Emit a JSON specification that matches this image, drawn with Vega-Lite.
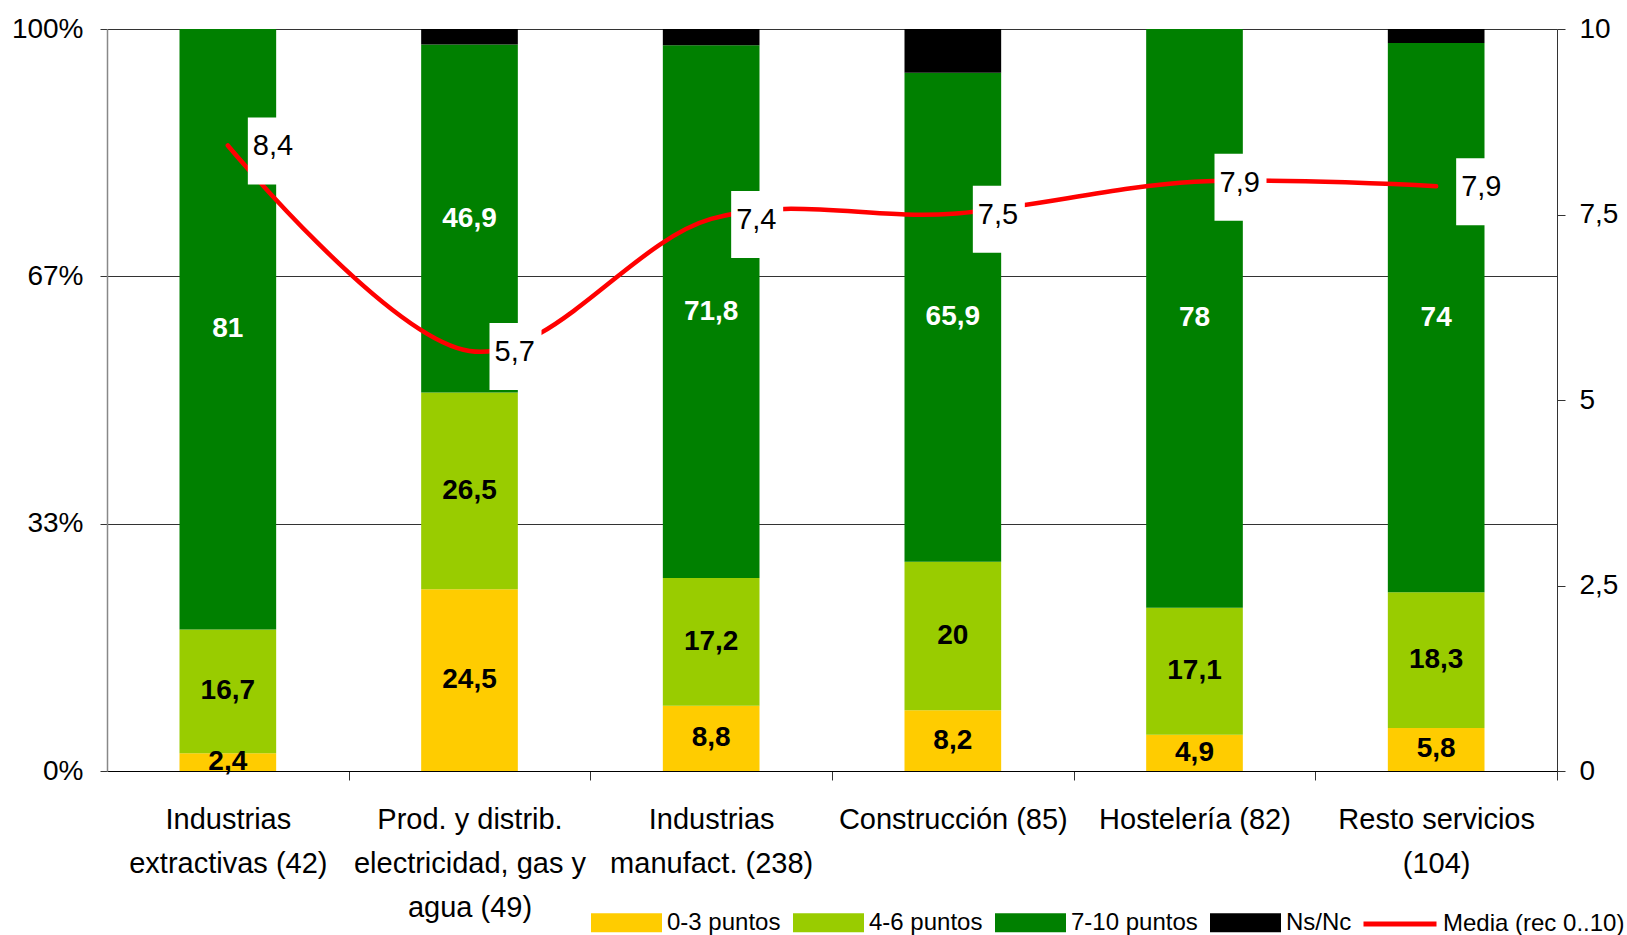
{
  "$schema": "https://vega.github.io/schema/vega-lite/v6.json",
  "width": 1450,
  "height": 742,
  "autosize": {"type": "none"},
  "padding": {"left": 107, "top": 29, "right": 70, "bottom": 164},
  "background": "white",
  "datasets": {
    "puntos": [
      {"sector": "Industrias\nextractivas (42)", "serie": "0-3 puntos", "valor": 2.4},
      {"sector": "Industrias\nextractivas (42)", "serie": "4-6 puntos", "valor": 16.7},
      {"sector": "Industrias\nextractivas (42)", "serie": "7-10 puntos", "valor": 81},
      {"sector": "Industrias\nextractivas (42)", "serie": "Ns/Nc", "valor": 0},
      {"sector": "Prod. y distrib.\nelectricidad, gas y\nagua (49)", "serie": "0-3 puntos", "valor": 24.5},
      {"sector": "Prod. y distrib.\nelectricidad, gas y\nagua (49)", "serie": "4-6 puntos", "valor": 26.5},
      {"sector": "Prod. y distrib.\nelectricidad, gas y\nagua (49)", "serie": "7-10 puntos", "valor": 46.9},
      {"sector": "Prod. y distrib.\nelectricidad, gas y\nagua (49)", "serie": "Ns/Nc", "valor": 2.1},
      {"sector": "Industrias\nmanufact. (238)", "serie": "0-3 puntos", "valor": 8.8},
      {"sector": "Industrias\nmanufact. (238)", "serie": "4-6 puntos", "valor": 17.2},
      {"sector": "Industrias\nmanufact. (238)", "serie": "7-10 puntos", "valor": 71.8},
      {"sector": "Industrias\nmanufact. (238)", "serie": "Ns/Nc", "valor": 2.2},
      {"sector": "Construcción (85)", "serie": "0-3 puntos", "valor": 8.2},
      {"sector": "Construcción (85)", "serie": "4-6 puntos", "valor": 20},
      {"sector": "Construcción (85)", "serie": "7-10 puntos", "valor": 65.9},
      {"sector": "Construcción (85)", "serie": "Ns/Nc", "valor": 5.9},
      {"sector": "Hostelería (82)", "serie": "0-3 puntos", "valor": 4.9},
      {"sector": "Hostelería (82)", "serie": "4-6 puntos", "valor": 17.1},
      {"sector": "Hostelería (82)", "serie": "7-10 puntos", "valor": 78},
      {"sector": "Hostelería (82)", "serie": "Ns/Nc", "valor": 0},
      {"sector": "Resto servicios\n(104)", "serie": "0-3 puntos", "valor": 5.8},
      {"sector": "Resto servicios\n(104)", "serie": "4-6 puntos", "valor": 18.3},
      {"sector": "Resto servicios\n(104)", "serie": "7-10 puntos", "valor": 74},
      {"sector": "Resto servicios\n(104)", "serie": "Ns/Nc", "valor": 1.9}
    ],
    "media": [
      {"sector": "Industrias\nextractivas (42)", "media": 8.43},
      {"sector": "Prod. y distrib.\nelectricidad, gas y\nagua (49)", "media": 5.66},
      {"sector": "Industrias\nmanufact. (238)", "media": 7.44},
      {"sector": "Construcción (85)", "media": 7.51},
      {"sector": "Hostelería (82)", "media": 7.94},
      {"sector": "Resto servicios\n(104)", "media": 7.88}
    ]
  },
  "layer": [
    {
      "data": {"name": "puntos"},
      "transform": [
        {"stack": "valor", "groupby": ["sector"], "sort": [{"field": "serie", "order": "ascending"}], "offset": "normalize", "as": ["y0", "y1"]},
        {"calculate": "(datum.y0 + datum.y1) / 2", "as": "ymid"}
      ],
      "layer": [
        {
          "mark": {"type": "bar"},
          "encoding": {
            "x": {
              "field": "sector", "type": "nominal",
              "scale": {
                "domain": ["Industrias\nextractivas (42)", "Prod. y distrib.\nelectricidad, gas y\nagua (49)", "Industrias\nmanufact. (238)", "Construcción (85)", "Hostelería (82)", "Resto servicios\n(104)"],
                "paddingInner": 0.6, "paddingOuter": 0.3
              },
              "axis": {
                "orient": "bottom", "title": null, "labelExpr": "split(datum.label, '\\n')",
                "labelFontSize": 29, "labelLineHeight": 44, "labelPadding": 25, "labelAngle": 0,
                "labelBaseline": "top", "tickOffset": 120.83, "labelOffset": -120.83, "tickSize": 9, "domainColor": "#000000",
                "tickColor": "#333333", "labelLimit": 400, "grid": false, "labelColor": "#000000"
              }
            },
            "y": {
              "field": "y0", "type": "quantitative", "scale": {"domain": [0, 1], "nice": false},
              "axis": {
                "orient": "left", "title": null, "values": [0, 0.33333, 0.66667, 1], "format": ".0%",
                "grid": true, "gridColor": "#333333", "gridWidth": 1, "domainColor": "#888888", "domainWidth": 1.5,
                "tickColor": "#333333", "tickSize": 7, "labelFontSize": 28, "labelPadding": 17, "labelColor": "#000000"
              }
            },
            "y2": {"field": "y1"},
            "color": {
              "field": "serie", "type": "nominal",
              "scale": {"domain": ["0-3 puntos", "4-6 puntos", "7-10 puntos", "Ns/Nc"], "range": ["#FFCC00", "#99CC00", "#008000", "#000000"]},
              "legend": {
                "orient": "none", "legendX": 484, "legendY": 858, "direction": "horizontal", "title": null,
                "symbolType": "M-1,-0.27H1V0.27H-1Z", "symbolSize": 5041, "symbolStrokeWidth": 0,
                "labelFontSize": 24, "labelOffset": 5, "columnPadding": 12, "padding": 0,
                "labelColor": "#000000", "symbolOpacity": 1, "labelLimit": 300
              }
            }
          }
        },
        {
          "transform": [{"filter": "datum.valor > 0 && datum.serie != 'Ns/Nc'"}],
          "mark": {"type": "text", "fontWeight": "bold", "fontSize": 28, "baseline": "middle", "align": "center"},
          "encoding": {
            "x": {"field": "sector", "type": "nominal"},
            "y": {"field": "ymid", "type": "quantitative"},
            "text": {"field": "valor", "type": "quantitative", "format": "~g"},
            "color": {"condition": {"test": "datum.serie == '7-10 puntos'", "value": "#ffffff"}, "value": "#000000"}
          }
        }
      ]
    },
    {
      "data": {"name": "media"},
      "layer": [
        {
          "mark": {"type": "line", "interpolate": "cardinal", "strokeWidth": 4.5, "strokeCap": "round"},
          "encoding": {
            "x": {"field": "sector", "type": "nominal"},
            "y": {
              "field": "media", "type": "quantitative", "scale": {"domain": [0, 10], "nice": false},
              "axis": {
                "orient": "right", "title": null, "values": [0, 2.5, 5, 7.5, 10], "format": "~g",
                "grid": false, "domainColor": "#333333", "tickColor": "#333333", "tickSize": 8,
                "labelPadding": 14, "labelFontSize": 28, "labelColor": "#000000"
              }
            },
            "stroke": {
              "datum": "Media (rec 0..10)", "type": "nominal",
              "scale": {"domain": ["Media (rec 0..10)"], "range": ["#FF0000"]},
              "legend": {
                "orient": "none", "legendX": 1254, "legendY": 856, "title": null,
                "symbolType": "stroke", "symbolSize": 5329, "symbolStrokeWidth": 5,
                "labelFontSize": 24, "labelOffset": 4, "padding": 0, "labelColor": "#000000", "labelLimit": 300
              }
            }
          }
        },
        {
          "mark": {"type": "point", "shape": "M0.4,-0.56H1.44V0.78H0.4Z", "size": 10000, "filled": true, "color": "#ffffff", "opacity": 1, "strokeWidth": 0},
          "encoding": {
            "x": {"field": "sector", "type": "nominal"},
            "y": {"field": "media", "type": "quantitative"}
          }
        },
        {
          "mark": {"type": "text", "align": "left", "dx": 25, "dy": 1, "fontSize": 29, "baseline": "middle", "color": "#000000"},
          "encoding": {
            "x": {"field": "sector", "type": "nominal"},
            "y": {"field": "media", "type": "quantitative"},
            "text": {"field": "media", "type": "quantitative", "format": ".1f"}
          }
        }
      ]
    }
  ],
  "resolve": {"scale": {"y": "independent"}},
  "config": {
    "font": "Liberation Sans",
    "view": {"stroke": null},
    "axis": {"labelFont": "Liberation Sans"},
    "legend": {"labelFont": "Liberation Sans"},
    "text": {"font": "Liberation Sans"},
    "locale": {
      "number": {"decimal": ",", "thousands": ".", "grouping": [3], "currency": ["", " €"]}
    }
  }
}
